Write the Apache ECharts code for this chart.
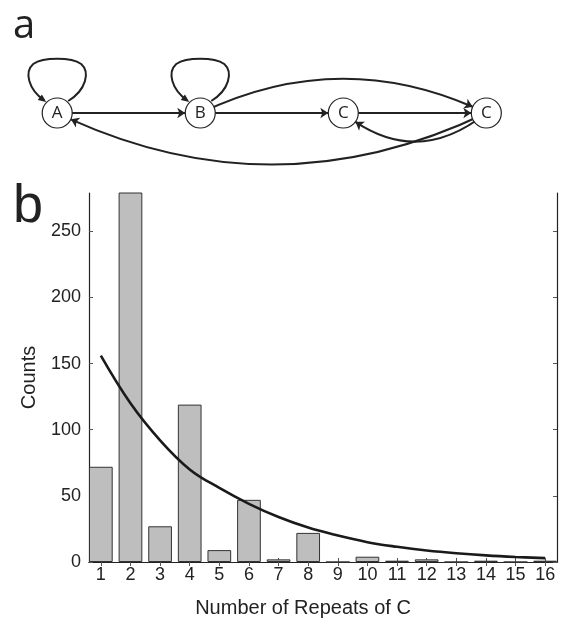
<!DOCTYPE html>
<html>
<head>
<meta charset="utf-8">
<script src="https://cdn.jsdelivr.net/npm/echarts@6/dist/echarts.min.js"></script>
<style>
  html, body { margin: 0; padding: 0; background: #fff; }
  #main { width: 565px; height: 625px; }
</style>
</head>
<body>
<div id="main"></div>
<script>
// panel b data
const repeats = [1, 2, 3, 4, 5, 6, 7, 8, 9, 10, 11, 12, 13, 14, 15, 16];
const counts = [72, 300, 27, 119, 9, 47, 2, 22, 0, 4, 1, 2, 0, 1, 0, 1];
const fitCurve = [156, 120, 92, 70, 56, 44, 34, 26, 20, 15, 11.5, 8.7, 6.6, 5, 3.8, 2.9];
const yTicks = [0, 50, 100, 150, 200, 250];

// panel a: state diagram
const stateNames = ['A', 'B', 'C1', 'C2'];
const stateLabels = ['A', 'B', 'C', 'C'];
const statePos = [1, 2, 3, 4];
const transitions = [
  ['A', 'B', 0], ['B', 'C1', 0], ['B', 'C2', 0.24],
  ['C1', 'C2', 0], ['C2', 'C1', 0.4], ['C2', 'A', 0.24]
];
const selfLoops = ['A', 'B'];

let myChart = echarts.init(document.getElementById('main'));

const axisColor = '#222';
const tickColor = '#555';
const sans = "'Liberation Sans', Arial, Helvetica, sans-serif";

// loop drawn above a node, arrow coming back in at its upper left
function renderLoop(params, api) {
  const c = api.coord([api.value(0), api.value(1)]);
  const tip = [-11, -11];
  const d = [0.8, 0.6];
  const n = [-0.6, 0.8];
  const b = [tip[0] - 8 * d[0], tip[1] - 8 * d[1]];
  return {
    type: 'group',
    x: c[0],
    y: c[1],
    children: [
      {
        type: 'path',
        shape: { pathData: 'M11 -12 C29 -23 33 -41 24 -49 C14 -56 -14 -56 -24 -49 C-33 -41 -29 -24 -13 -12.5' },
        style: { fill: null, stroke: '#222', lineWidth: 2 },
      },
      {
        type: 'polygon',
        shape: { points: [tip, [b[0] + 3.5 * n[0], b[1] + 3.5 * n[1]], [b[0] - 3.5 * n[0], b[1] - 3.5 * n[1]]] },
        style: { fill: '#222' },
      },
    ],
  };
}

let option = {
  animation: false,
  title: [
    { text: 'a', left: 8, top: 2, textStyle: { fontSize: 40, fontWeight: 'normal', color: '#222', fontFamily: 'Open Sans' } },
    { text: 'b', left: 8, top: 175, textStyle: { fontSize: 54, fontWeight: 'normal', color: '#222', fontFamily: sans } },
  ],
  grid: [
    { left: 89, right: 8, top: 193, height: 369 },
    { left: 0, right: 0, top: 50, height: 126 },
  ],
  xAxis: [
    {
      type: 'value', gridIndex: 0, position: 'bottom', min: 0.6, max: 16.4,
      axisLine: { lineStyle: { color: axisColor, width: 1.2 } },
      axisTick: { inside: true, length: 4, customValues: repeats, lineStyle: { color: tickColor } },
      axisLabel: { customValues: repeats, margin: 4, fontSize: 18, color: '#222', fontFamily: sans },
      splitLine: { show: false },
      name: 'Number of Repeats of C', nameLocation: 'middle', nameGap: 36,
      nameTextStyle: { fontSize: 20, color: '#222', fontFamily: sans, padding: [0, 40, 0, 0] },
    },
    {
      type: 'value', gridIndex: 0, position: 'top', min: 0.6, max: 16.4,
      axisLine: { lineStyle: { color: axisColor, width: 1.2 } },
      axisTick: { inside: true, length: 4, customValues: repeats, lineStyle: { color: tickColor } },
      axisLabel: { show: false },
      splitLine: { show: false },
    },
    {
      type: 'value', gridIndex: 1, min: 0.6, max: 4.55, show: false,
    },
  ],
  yAxis: [
    {
      type: 'value', gridIndex: 0, position: 'left', min: 0, max: 279,
      axisLine: { show: true, lineStyle: { color: axisColor, width: 1.2 } },
      axisTick: { show: true, inside: true, length: 4, customValues: yTicks, lineStyle: { color: tickColor } },
      axisLabel: { customValues: yTicks, margin: 8, fontSize: 18, color: '#222', fontFamily: sans },
      splitLine: { show: false },
      name: 'Counts', nameLocation: 'middle', nameRotate: 90, nameGap: 50,
      nameTextStyle: { fontSize: 20, color: '#222', fontFamily: sans },
    },
    {
      type: 'value', gridIndex: 0, position: 'right', min: 0, max: 279,
      axisLine: { show: true, lineStyle: { color: axisColor, width: 1.2 } },
      axisTick: { show: true, inside: true, length: 4, customValues: yTicks, lineStyle: { color: tickColor } },
      axisLabel: { show: false },
      splitLine: { show: false },
    },
    {
      type: 'value', gridIndex: 1, min: 0, max: 1, show: false,
    },
  ],
  series: [
    {
      name: 'Counts',
      type: 'bar',
      xAxisIndex: 0,
      yAxisIndex: 0,
      barWidth: 23.7,
      clip: true,
      itemStyle: { color: '#bebebe', borderColor: '#333', borderWidth: 1 },
      data: repeats.map((r, i) => [r, counts[i]]),
    },
    {
      name: 'Fit',
      type: 'line',
      xAxisIndex: 0,
      yAxisIndex: 0,
      smooth: 0.4,
      showSymbol: false,
      lineStyle: { color: '#1a1a1a', width: 2.6 },
      data: repeats.map((r, i) => [r, fitCurve[i]]),
      z: 5,
    },
    {
      type: 'custom',
      coordinateSystem: 'cartesian2d',
      xAxisIndex: 2,
      yAxisIndex: 2,
      renderItem: renderLoop,
      data: selfLoops.map(s => [statePos[stateNames.indexOf(s)], 0.5]),
      z: 2,
    },
    {
      type: 'graph',
      coordinateSystem: 'cartesian2d',
      xAxisIndex: 2,
      yAxisIndex: 2,
      symbol: 'circle',
      symbolSize: 30,
      itemStyle: { color: '#fff', borderColor: '#222', borderWidth: 1.2 },
      label: { show: true, position: 'inside', fontSize: 17, color: '#222', fontFamily: 'Open Sans', formatter: (p) => stateLabels[p.dataIndex] },
      edgeSymbol: ['none', 'arrow'],
      edgeSymbolSize: 8,
      lineStyle: { color: '#222', width: 2, opacity: 1 },
      data: stateNames.map((n, i) => ({ name: n, value: [statePos[i], 0.5] })),
      links: transitions.map(t => ({ source: t[0], target: t[1], lineStyle: { curveness: t[2] } })),
      z: 3,
    },
  ],
};

myChart.setOption(option);
</script>
</body>
</html>
